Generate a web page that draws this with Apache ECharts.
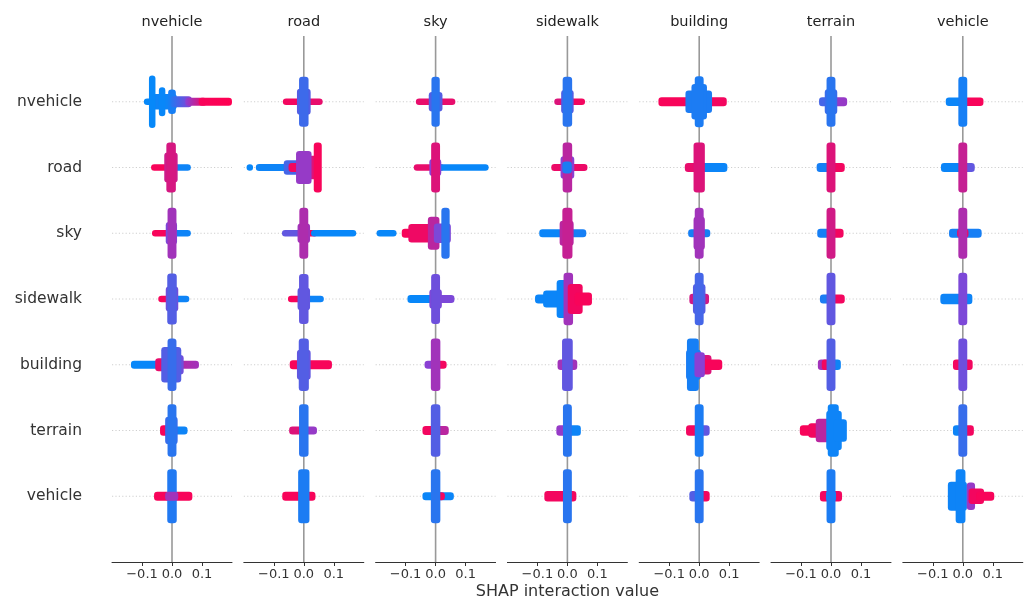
<!DOCTYPE html>
<html>
<head>
<meta charset="utf-8">
<script src="https://cdn.jsdelivr.net/npm/echarts@6/dist/echarts.min.js"></script>
<style>
  html, body { margin: 0; padding: 0; background: #ffffff; }
  #chart { width: 1033px; height: 603px; }
</style>
</head>
<body>
<div id="chart"></div>
<script>
// ---------------- DATA ----------------
const features = ['nvehicle', 'road', 'sky', 'sidewalk', 'building', 'terrain', 'vehicle'];
const tickValues = [-0.1, 0, 0.1];
const xLabel = 'SHAP interaction value';

// Each swarm segment: [row, shapFrom, shapTo, spread (rows), featureValueFrom (0 low .. 1 high), featureValueTo]
const swarmNvehicle = [
  [0, -0.083, 0, 0, 0.02],
  [0, -0.055, 0.005, 0.07, 0.05],
  [0, -0.066, -0.066, 0.35, 0.02],
  [0, -0.033, -0.033, 0.17, 0.03],
  [0, -0.002, 0.002, 0.135, 0.08],
  [0, 0.005, 0.055, 0.035, 0.12, 0.5],
  [0, 0.055, 0.105, 0.012, 0.5, 0.97],
  [0, 0.1, 0.189, 0.012, 0.97, 1.0],
  [1, -0.059, -0.01, 0, 0.97],
  [1, 0.01, 0.052, 0, 0.05],
  [1, -0.015, 0.008, 0.18, 0.78],
  [1, -0.008, 0.002, 0.33, 0.82],
  [2, -0.056, -0.01, 0, 0.97],
  [2, 0.01, 0.052, 0, 0.05],
  [2, -0.01, 0.006, 0.12, 0.45],
  [2, -0.004, 0.004, 0.34, 0.6],
  [3, -0.035, -0.005, 0, 0.97],
  [3, 0.005, 0.047, 0, 0.05],
  [3, -0.01, 0.01, 0.14, 0.4],
  [3, -0.005, 0.005, 0.34, 0.3],
  [4, -0.126, -0.04, 0.01, 0.03],
  [4, -0.045, -0.012, 0.05, 0.9],
  [4, 0.015, 0.079, 0.012, 0.7, 0.6],
  [4, 0.005, 0.028, 0.1, 0.4],
  [4, -0.025, 0.02, 0.22, 0.3],
  [4, -0.004, 0.004, 0.35, 0.2],
  [5, -0.029, -0.005, 0.03, 0.97],
  [5, 0.005, 0.041, 0.01, 0.05],
  [5, -0.012, 0.008, 0.16, 0.2],
  [5, -0.004, 0.004, 0.35, 0.15],
  [6, -0.049, 0.057, 0.02, 0.97],
  [6, -0.005, 0.005, 0.36, 0.12],
  [6, -0.012, 0.01, 0.02, 0.6]
];

const swarmRoad = [
  [0, -0.059, -0.02, 0, 0.95],
  [0, 0.02, 0.052, 0, 0.9],
  [0, -0.012, 0.012, 0.15, 0.3],
  [0, -0.005, 0.005, 0.33, 0.22],
  [1, -0.18, -0.18, 0, 0.03],
  [1, -0.149, -0.02, 0.005, 0.05],
  [1, -0.056, -0.012, 0.06, 0.25],
  [1, -0.04, -0.025, 0.02, 0.95],
  [1, 0.0, 0.045, 0.13, 0.85],
  [1, -0.015, 0.015, 0.2, 0.55],
  [1, 0.044, 0.049, 0.33, 0.97],
  [2, -0.062, 0.0, 0, 0.35],
  [2, 0.0, 0.035, 0, 0.95],
  [2, 0.035, 0.164, 0, 0.03],
  [2, -0.01, 0.01, 0.1, 0.6],
  [2, -0.004, 0.004, 0.34, 0.65],
  [3, -0.042, -0.005, 0, 0.97],
  [3, 0.005, 0.056, 0, 0.05],
  [3, -0.01, 0.01, 0.12, 0.35],
  [3, -0.005, 0.005, 0.33, 0.35],
  [4, -0.036, 0.083, 0.02, 0.97],
  [4, -0.012, 0.012, 0.18, 0.35],
  [4, -0.006, 0.006, 0.35, 0.3],
  [5, -0.038, -0.005, 0.01, 0.85],
  [5, 0.005, 0.033, 0.01, 0.55],
  [5, -0.005, 0.005, 0.35, 0.15],
  [6, -0.061, 0.028, 0.02, 0.97],
  [6, -0.008, 0.008, 0.36, 0.1]
];

const swarmSky = [
  [0, -0.055, 0.055, 0, 0.9],
  [0, -0.012, 0.012, 0.1, 0.3],
  [0, -0.003, 0.003, 0.33, 0.15],
  [1, -0.062, 0.0, 0, 0.9],
  [1, 0.0, 0.018, 0, 0.9],
  [1, 0.018, 0.166, 0, 0.03],
  [1, -0.01, 0.008, 0.08, 0.5],
  [1, -0.004, 0.004, 0.33, 0.85],
  [2, -0.186, -0.141, 0, 0.03],
  [2, -0.102, -0.06, 0.02, 0.97],
  [2, -0.08, -0.015, 0.09, 0.93],
  [2, -0.015, 0.002, 0.2, 0.7],
  [2, 0.005, 0.04, 0.1, 0.45],
  [2, 0.03, 0.036, 0.34, 0.15],
  [3, -0.083, 0.0, 0.01, 0.03],
  [3, 0.0, 0.052, 0.01, 0.45],
  [3, -0.01, 0.01, 0.1, 0.45],
  [3, -0.004, 0.004, 0.33, 0.4],
  [4, -0.026, 0.0, 0.01, 0.5],
  [4, 0.0, 0.026, 0.01, 0.95],
  [4, -0.005, 0.005, 0.35, 0.6],
  [5, -0.033, -0.005, 0.02, 0.95],
  [5, 0.005, 0.033, 0.02, 0.7],
  [5, -0.005, 0.005, 0.35, 0.3],
  [6, -0.033, 0.05, 0.01, 0.04],
  [6, 0.005, 0.02, 0.01, 0.95],
  [6, -0.005, 0.005, 0.36, 0.15]
];

const swarmSidewalk = [
  [0, -0.033, -0.01, 0, 0.85],
  [0, 0.01, 0.048, 0, 0.95],
  [0, -0.01, 0.01, 0.13, 0.3],
  [0, -0.005, 0.005, 0.33, 0.15],
  [1, -0.043, 0.056, 0.005, 0.92],
  [1, -0.012, 0.012, 0.12, 0.5],
  [1, -0.005, 0.005, 0.33, 0.7],
  [1, -0.006, 0.004, 0.04, 0.1],
  [2, -0.083, -0.005, 0.01, 0.04],
  [2, 0.005, 0.052, 0.01, 0.08],
  [2, -0.015, 0.01, 0.14, 0.7],
  [2, -0.006, 0.006, 0.34, 0.75],
  [3, -0.097, -0.06, 0.02, 0.04],
  [3, -0.07, -0.02, 0.08, 0.04],
  [3, -0.025, -0.005, 0.24, 0.04],
  [3, -0.002, 0.008, 0.35, 0.6],
  [3, 0.012, 0.04, 0.18, 0.95],
  [3, 0.035, 0.071, 0.05, 0.97],
  [4, -0.022, 0.022, 0.03, 0.6],
  [4, -0.007, 0.007, 0.35, 0.35],
  [5, -0.026, -0.005, 0.03, 0.55],
  [5, 0.005, 0.034, 0.03, 0.05],
  [5, -0.004, 0.004, 0.35, 0.15],
  [6, -0.066, 0.019, 0.03, 0.95],
  [6, -0.004, 0.004, 0.36, 0.15]
];

const swarmBuilding = [
  [0, -0.125, -0.02, 0.02, 0.97],
  [0, 0.02, 0.081, 0.02, 0.95],
  [0, -0.035, 0.032, 0.12, 0.1],
  [0, -0.015, 0.015, 0.22, 0.1],
  [0, -0.004, 0.004, 0.34, 0.1],
  [1, -0.037, 0.0, 0.02, 0.9],
  [1, 0.005, 0.083, 0.02, 0.04],
  [1, -0.008, 0.008, 0.33, 0.85],
  [2, -0.026, 0.026, 0.01, 0.08],
  [2, -0.008, 0.008, 0.2, 0.6],
  [2, -0.004, 0.004, 0.34, 0.6],
  [3, -0.022, 0.022, 0.03, 0.8],
  [3, -0.01, 0.01, 0.18, 0.3],
  [3, -0.004, 0.004, 0.35, 0.25],
  [4, -0.033, -0.005, 0.18, 0.1],
  [4, -0.03, -0.012, 0.35, 0.08],
  [4, 0.0, 0.03, 0.1, 0.85],
  [4, 0.02, 0.066, 0.03, 0.97],
  [4, -0.005, 0.008, 0.14, 0.5],
  [5, -0.033, -0.005, 0.03, 0.95],
  [5, 0.005, 0.024, 0.03, 0.35],
  [5, -0.004, 0.004, 0.35, 0.1],
  [6, -0.022, -0.005, 0.03, 0.3],
  [6, 0.0, 0.024, 0.03, 0.95],
  [6, -0.004, 0.004, 0.36, 0.15]
];

const swarmTerrain = [
  [0, -0.029, -0.005, 0.02, 0.25],
  [0, 0.005, 0.043, 0.02, 0.55],
  [0, -0.01, 0.01, 0.14, 0.2],
  [0, -0.004, 0.004, 0.33, 0.15],
  [1, -0.037, 0.0, 0.02, 0.08],
  [1, 0.0, 0.035, 0.02, 0.95],
  [1, -0.004, 0.004, 0.33, 0.85],
  [2, -0.035, -0.005, 0.02, 0.08],
  [2, 0.005, 0.031, 0.02, 0.95],
  [2, -0.004, 0.004, 0.34, 0.8],
  [3, -0.026, 0.0, 0.02, 0.1],
  [3, 0.0, 0.035, 0.02, 0.95],
  [3, -0.004, 0.004, 0.35, 0.35],
  [4, -0.033, -0.02, 0.03, 0.6],
  [4, -0.02, -0.003, 0.03, 0.95],
  [4, 0.0, 0.022, 0.03, 0.05],
  [4, -0.004, 0.004, 0.35, 0.3],
  [5, -0.093, -0.06, 0.03, 0.97],
  [5, -0.065, -0.035, 0.06, 0.95],
  [5, -0.04, -0.008, 0.13, 0.7],
  [5, -0.005, 0.025, 0.25, 0.05],
  [5, 0.0, 0.015, 0.35, 0.05],
  [5, 0.02, 0.042, 0.12, 0.05],
  [6, -0.026, 0.026, 0.03, 0.95],
  [6, -0.004, 0.004, 0.36, 0.1],
  [6, -0.006, 0.006, 0.03, 0.1]
];

const swarmVehicle = [
  [0, -0.046, 0.0, 0.015, 0.04],
  [0, 0.0, 0.058, 0.015, 0.97],
  [0, -0.004, 0.004, 0.33, 0.08],
  [1, -0.062, 0.0, 0.02, 0.04],
  [1, 0.0, 0.029, 0.02, 0.35],
  [1, -0.004, 0.004, 0.33, 0.75],
  [2, -0.035, 0.052, 0.02, 0.08],
  [2, -0.008, 0.008, 0.02, 0.95],
  [2, -0.004, 0.004, 0.34, 0.65],
  [3, -0.064, 0.021, 0.03, 0.05],
  [3, -0.004, 0.004, 0.35, 0.45],
  [4, -0.022, 0.022, 0.03, 0.95],
  [4, -0.004, 0.004, 0.35, 0.4],
  [5, -0.022, 0.0, 0.03, 0.05],
  [5, 0.0, 0.026, 0.03, 0.95],
  [5, -0.004, 0.004, 0.35, 0.2],
  [6, -0.039, 0.003, 0.17, 0.05],
  [6, -0.013, -0.002, 0.36, 0.05],
  [6, 0.024, 0.03, 0.16, 0.55],
  [6, 0.03, 0.06, 0.07, 0.95],
  [6, 0.055, 0.094, 0.02, 0.97]
];

const swarms = [swarmNvehicle, swarmRoad, swarmSky, swarmSidewalk, swarmBuilding, swarmTerrain, swarmVehicle];

// ---------------- STYLE / LAYOUT ----------------
const FONT = 'DejaVu Sans';
const PANEL_LEFT = 112, PANEL_STEP = 131.8, PANEL_W = 120, PANEL_TOP = 36, PANEL_H = 526;
const DOT_R = 3.25;
const STOPS = [[0, 139, 251], [138, 64, 212], [255, 0, 82]];

function cmap(t) {
  t = Math.max(0, Math.min(1, t));
  const seg = t < 0.5 ? 0 : 1;
  const f = t < 0.5 ? t / 0.5 : (t - 0.5) / 0.5;
  const a = STOPS[seg], b = STOPS[seg + 1];
  const c = a.map((v, k) => Math.round(v + (b[k] - v) * f));
  return 'rgb(' + c.join(',') + ')';
}

function fmtTick(v) {
  const s = Math.abs(v).toFixed(1);
  return v < -1e-9 ? '\u2212' + s : s;
}

function renderSwarm(params, api) {
  const row = api.value(0), x0 = api.value(1), x1 = api.value(2), s = api.value(3);
  const c0 = api.value(4), c1 = api.value(5);
  const a = api.coord([x0, row - s]);
  const b = api.coord([x1, row + s]);
  const r = DOT_R;
  const left = Math.min(a[0], b[0]) - r;
  const top = Math.min(a[1], b[1]) - r;
  const w = Math.abs(b[0] - a[0]) + 2 * r;
  const h = Math.abs(b[1] - a[1]) + 2 * r;
  const fill = (c0 === c1) ? cmap(c0) : new echarts.graphic.LinearGradient(0, 0, 1, 0, [
    { offset: 0, color: cmap(c0) }, { offset: 1, color: cmap(c1) }
  ]);
  return { type: 'rect', shape: { x: left, y: top, width: w, height: h, r: r }, style: { fill: fill } };
}

function renderGridRow(params, api) {
  const cs = params.coordSys;
  const p = api.coord([0, api.value(0)]);
  return {
    type: 'line',
    shape: { x1: cs.x, y1: p[1], x2: cs.x + cs.width, y2: p[1] },
    style: { stroke: '#cfcfcf', lineWidth: 1, lineDash: [1.2, 2.2] }
  };
}

function renderZeroLine(params, api) {
  const a = api.coord([api.value(0), -1]);
  const b = api.coord([api.value(0), 7]);
  return {
    type: 'line',
    shape: { x1: a[0], y1: a[1], x2: b[0], y2: b[1] },
    style: { stroke: '#999999', lineWidth: 1.6 }
  };
}

const grids = [], xAxes = [], yAxes = [], series = [], titles = [];
features.forEach((f, i) => {
  const left = PANEL_LEFT + i * PANEL_STEP;
  grids.push({ left: left, top: PANEL_TOP, width: PANEL_W, height: PANEL_H, containLabel: false });
  titles.push({
    text: f, left: left + PANEL_W / 2, top: 15, textAlign: 'center', padding: 0,
    textStyle: { fontFamily: FONT, fontSize: 14.5, fontWeight: 'normal', color: '#222222' }
  });
  xAxes.push({
    gridIndex: i, type: 'value', min: -0.2, max: 0.2, interval: 0.1,
    axisLine: { show: true, onZero: false, lineStyle: { color: '#333333', width: 1 } },
    axisTick: { show: true, customValues: tickValues, length: 4, lineStyle: { color: '#333333' } },
    axisLabel: { customValues: tickValues, formatter: fmtTick, fontFamily: FONT, fontSize: 13, color: '#333333', margin: 6 },
    splitLine: { show: false }
  });
  yAxes.push({
    gridIndex: i, type: 'value', min: -1, max: 7, inverse: true,
    axisLine: { show: false }, axisTick: { show: false }, splitLine: { show: false },
    axisLabel: {
      show: i === 0, customValues: [0, 1, 2, 3, 4, 5, 6],
      formatter: v => features[Math.round(v)] || '',
      fontFamily: FONT, fontSize: 15.5, color: '#333333', margin: 30
    }
  });
  series.push({
    type: 'custom', xAxisIndex: i, yAxisIndex: i, z: 1, silent: true,
    renderItem: renderGridRow, data: features.map((_, r) => [r])
  });
  series.push({
    type: 'custom', xAxisIndex: i, yAxisIndex: i, z: 2, silent: true,
    renderItem: renderZeroLine, data: [[0]]
  });
  series.push({
    type: 'custom', xAxisIndex: i, yAxisIndex: i, z: 3, silent: true,
    renderItem: renderSwarm,
    dimensions: ['row', 'from', 'to', 'spread', 'c0', 'c1'],
    data: swarms[i].map(d => [d[0], d[1], d[2], d[3], d[4], d.length > 5 ? d[5] : d[4]])
  });
});

// x-axis title, centred under the middle panel
titles.push({
  text: xLabel, left: PANEL_LEFT + 3 * PANEL_STEP + PANEL_W / 2, top: 584, textAlign: 'center', padding: 0,
  textStyle: { fontFamily: FONT, fontSize: 16, fontWeight: 'normal', color: '#333333' }
});

const chart = echarts.init(document.getElementById('chart'), null, { renderer: 'canvas' });
chart.setOption({
  animation: false,
  backgroundColor: '#ffffff',
  title: titles,
  grid: grids,
  xAxis: xAxes,
  yAxis: yAxes,
  series: series
});
</script>
</body>
</html>
